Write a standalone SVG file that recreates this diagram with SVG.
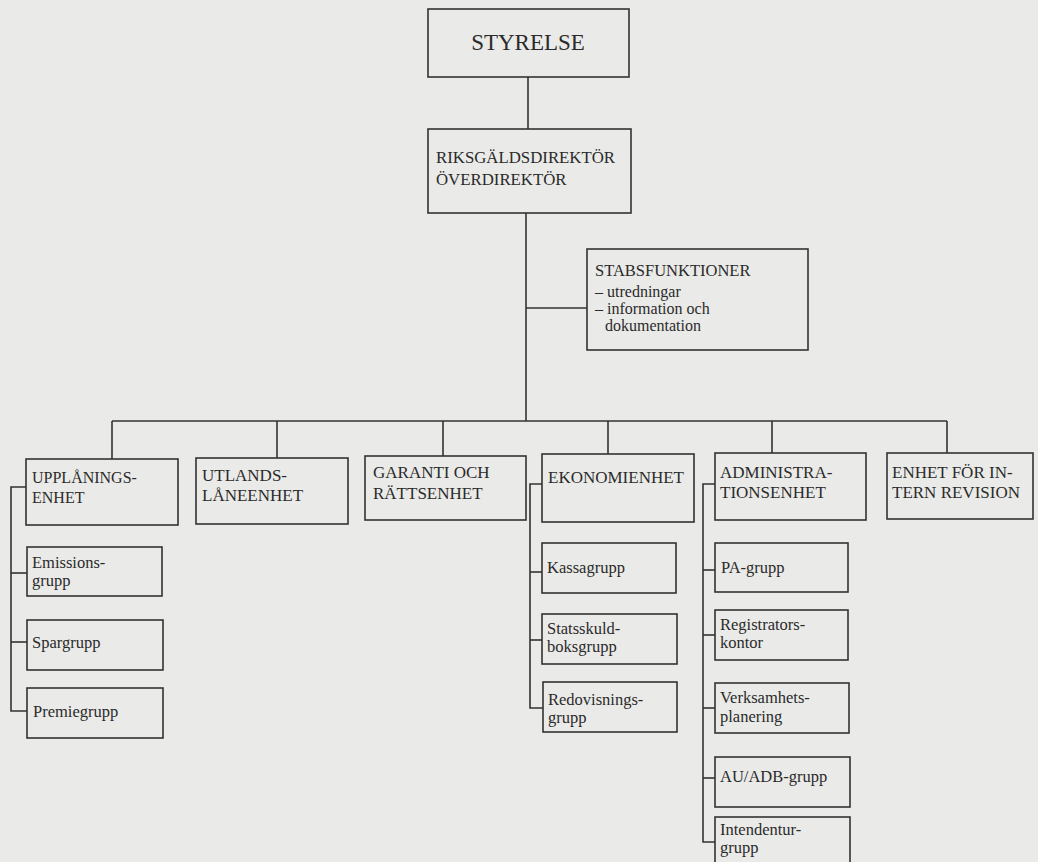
<svg xmlns="http://www.w3.org/2000/svg" width="1038" height="862" viewBox="0 0 1038 862" font-family="'Liberation Serif', 'Times New Roman', serif">
<style>
.bg{fill:#eaeae8}
.box{fill:none;stroke:#333;stroke-width:1.6}
.ln{fill:none;stroke:#333;stroke-width:1.6}
text{font-family:'Liberation Serif','Times New Roman',serif;fill:#2b2b2b}
.h{font-size:17px}
.s{font-size:16.5px}
.st{font-size:16.5px}
.si{font-size:16px}
</style>
<rect class="bg" x="0" y="0" width="1038" height="862"/>
<g id="connectors">
<path class="ln" d="M528,77 V129"/>
<path class="ln" d="M526,213 V421"/>
<path class="ln" d="M526,308 H587"/>
<path class="ln" d="M112,421 H947"/>
<path class="ln" d="M112,421 V459"/>
<path class="ln" d="M277,421 V458"/>
<path class="ln" d="M443,421 V456"/>
<path class="ln" d="M608,421 V454"/>
<path class="ln" d="M772,421 V453"/>
<path class="ln" d="M947,421 V453"/>
<path class="ln" d="M26,487 H11 V711 H27"/>
<path class="ln" d="M11,573 H27"/>
<path class="ln" d="M11,642 H27"/>
<path class="ln" d="M542,484 H530 V708 H543"/>
<path class="ln" d="M530,572 H542"/>
<path class="ln" d="M530,640 H542"/>
<path class="ln" d="M715,484 H703 V842 H715"/>
<path class="ln" d="M703,570 H715"/>
<path class="ln" d="M703,635 H715"/>
<path class="ln" d="M703,708 H715"/>
<path class="ln" d="M703,778 H715"/>
</g>
<g id="styrelse">
<rect class="box" x="428" y="9" width="201" height="68"/>
<text x="528" y="50" text-anchor="middle" font-size="23">STYRELSE</text>
</g>
<g id="riksgalds">
<rect class="box" x="428" y="129" width="203" height="84"/>
<text x="436" y="163" font-size="16.8">RIKSGÄLDSDIREKTÖR</text>
<text x="436" y="185" font-size="16.8">ÖVERDIREKTÖR</text>
</g>
<g id="stabs">
<rect class="box" x="587" y="249" width="221" height="101"/>
<text x="595" y="276" class="st">STABSFUNKTIONER</text>
<text x="595" y="297" class="si">– utredningar</text>
<text x="595" y="314" class="si">– information och</text>
<text x="605" y="331" class="si">dokumentation</text>
</g>
<g id="upplaning">
<rect class="box" x="26" y="459" width="152" height="66"/>
<text x="32" y="483" font-size="16">UPPLÅNINGS-</text>
<text x="32" y="503" font-size="16">ENHET</text>
</g>
<g id="utlands">
<rect class="box" x="196" y="458" width="152" height="66"/>
<text x="202" y="481" class="h">UTLANDS-</text>
<text x="202" y="501" class="h">LÅNEENHET</text>
</g>
<g id="garanti">
<rect class="box" x="365" y="456" width="161" height="64"/>
<text x="373" y="478" class="h">GARANTI OCH</text>
<text x="373" y="499" class="h">RÄTTSENHET</text>
</g>
<g id="ekonomi">
<rect class="box" x="542" y="454" width="152" height="68"/>
<text x="548" y="483" class="h">EKONOMIENHET</text>
</g>
<g id="admin">
<rect class="box" x="715" y="453" width="151" height="67"/>
<text x="720" y="478" class="h">ADMINISTRA-</text>
<text x="720" y="498" class="h">TIONSENHET</text>
</g>
<g id="revision">
<rect class="box" x="887" y="453" width="146" height="66"/>
<text x="892" y="478" class="h">ENHET FÖR IN-</text>
<text x="892" y="498" class="h">TERN REVISION</text>
</g>
<g id="emissions">
<rect class="box" x="27" y="547" width="135" height="49"/>
<text x="32" y="568" class="s">Emissions-</text>
<text x="32" y="586" class="s">grupp</text>
</g>
<g id="spargrupp">
<rect class="box" x="27" y="620" width="136" height="50"/>
<text x="32" y="648" class="s">Spargrupp</text>
</g>
<g id="premiegrupp">
<rect class="box" x="27" y="688" width="136" height="50"/>
<text x="33" y="717" class="s">Premiegrupp</text>
</g>
<g id="kassagrupp">
<rect class="box" x="542" y="543" width="134" height="50"/>
<text x="547" y="573" class="s">Kassagrupp</text>
</g>
<g id="statsskuld">
<rect class="box" x="542" y="614" width="135" height="50"/>
<text x="547" y="634" class="s">Statsskuld-</text>
<text x="547" y="652" class="s">boksgrupp</text>
</g>
<g id="redovisning">
<rect class="box" x="543" y="682" width="134" height="50"/>
<text x="548" y="705" class="s">Redovisnings-</text>
<text x="548" y="723" class="s">grupp</text>
</g>
<g id="pagrupp">
<rect class="box" x="715" y="543" width="133" height="49"/>
<text x="721" y="573" class="s">PA-grupp</text>
</g>
<g id="registrator">
<rect class="box" x="715" y="610" width="133" height="50"/>
<text x="720" y="630" class="s">Registrators-</text>
<text x="720" y="648" class="s">kontor</text>
</g>
<g id="verksamhet">
<rect class="box" x="715" y="683" width="134" height="50"/>
<text x="720" y="703" class="s">Verksamhets-</text>
<text x="720" y="722" class="s">planering</text>
</g>
<g id="auadb">
<rect class="box" x="715" y="757" width="135" height="50"/>
<text x="720" y="782" class="s">AU/ADB-grupp</text>
</g>
<g id="intendentur">
<rect class="box" x="715" y="817" width="135" height="60"/>
<text x="720" y="835" class="s">Intendentur-</text>
<text x="720" y="853" class="s">grupp</text>
</g>
</svg>
